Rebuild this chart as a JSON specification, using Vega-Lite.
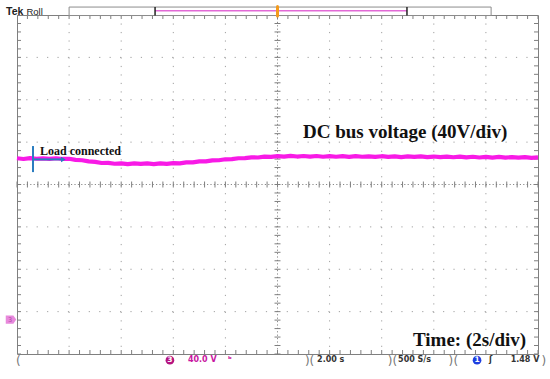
{
  "$schema": "https://vega.github.io/schema/vega-lite/v6.json",
  "autosize": "none",
  "width": 521,
  "height": 339,
  "padding": {"left": 17, "top": 15, "right": 12, "bottom": 25},
  "background": "white",
  "config": {"view": {"stroke": "#7f7f7f", "strokeWidth": 1}},
  "datasets": {
    "tmaj": [{"t": 2}, {"t": 4}, {"t": 6}, {"t": 8}, {"t": 12}, {"t": 14}, {"t": 16}, {"t": 18}],
    "vmaj": [{"v": 8}, {"v": 48}, {"v": 88}, {"v": 168}, {"v": 208}, {"v": 248}],
    "tcen": [{"t": 10}],
    "vcen": [{"v": 128}],
    "tminor": [{"t":0},{"t":0.4},{"t":0.8},{"t":1.2},{"t":1.6},{"t":2},{"t":2.4},{"t":2.8},{"t":3.2},{"t":3.6},{"t":4},{"t":4.4},{"t":4.8},{"t":5.2},{"t":5.6},{"t":6},{"t":6.4},{"t":6.8},{"t":7.2},{"t":7.6},{"t":8},{"t":8.4},{"t":8.8},{"t":9.2},{"t":9.6},{"t":10},{"t":10.4},{"t":10.8},{"t":11.2},{"t":11.6},{"t":12},{"t":12.4},{"t":12.8},{"t":13.2},{"t":13.6},{"t":14},{"t":14.4},{"t":14.8},{"t":15.2},{"t":15.6},{"t":16},{"t":16.4},{"t":16.8},{"t":17.2},{"t":17.6},{"t":18},{"t":18.4},{"t":18.8},{"t":19.2},{"t":19.6},{"t":20}],
    "vminor": [{"v":-32},{"v":-24},{"v":-16},{"v":-8},{"v":0},{"v":8},{"v":16},{"v":24},{"v":32},{"v":40},{"v":48},{"v":56},{"v":64},{"v":72},{"v":80},{"v":88},{"v":96},{"v":104},{"v":112},{"v":120},{"v":128},{"v":136},{"v":144},{"v":152},{"v":160},{"v":168},{"v":176},{"v":184},{"v":192},{"v":200},{"v":208},{"v":216},{"v":224},{"v":232},{"v":240},{"v":248},{"v":256},{"v":264},{"v":272},{"v":280},{"v":288}],
    "trace": [
      {"t":0,"v":152.8},{"t":0.25,"v":152.1},{"t":0.5,"v":152.9},{"t":0.75,"v":152.3},{"t":1,"v":152.7},{"t":1.25,"v":152.2},{"t":1.5,"v":152.8},{"t":1.75,"v":152.1},
      {"t":2,"v":152.3},{"t":2.25,"v":151.2},{"t":2.5,"v":150.9},{"t":2.75,"v":149.8},{"t":3,"v":149.4},{"t":3.25,"v":148.3},{"t":3.5,"v":148.4},{"t":3.75,"v":147.6},
      {"t":4,"v":148.0},{"t":4.25,"v":147.3},{"t":4.5,"v":147.9},{"t":4.75,"v":147.4},{"t":5,"v":147.9},{"t":5.25,"v":147.3},{"t":5.5,"v":148.0},{"t":5.75,"v":147.5},
      {"t":6,"v":148.1},{"t":6.25,"v":148.0},{"t":6.5,"v":148.9},{"t":6.75,"v":148.9},{"t":7,"v":149.8},{"t":7.25,"v":149.9},{"t":7.5,"v":150.8},{"t":7.75,"v":150.9},
      {"t":8,"v":151.8},{"t":8.25,"v":151.9},{"t":8.5,"v":152.8},{"t":8.75,"v":152.9},{"t":9,"v":153.6},{"t":9.25,"v":153.5},{"t":9.5,"v":154.3},{"t":9.75,"v":154.1},
      {"t":10,"v":154.8},{"t":10.25,"v":154.3},{"t":10.5,"v":155.0},{"t":10.75,"v":154.4},{"t":11,"v":154.9},{"t":11.25,"v":154.3},{"t":11.5,"v":154.9},{"t":11.75,"v":154.2},
      {"t":12,"v":154.8},{"t":12.25,"v":154.2},{"t":12.5,"v":154.7},{"t":12.75,"v":154.1},{"t":13,"v":154.8},{"t":13.25,"v":154.2},{"t":13.5,"v":154.6},{"t":13.75,"v":154.0},
      {"t":14,"v":154.7},{"t":14.25,"v":154.1},{"t":14.5,"v":154.6},{"t":14.75,"v":153.9},{"t":15,"v":154.5},{"t":15.25,"v":154.0},{"t":15.5,"v":154.6},{"t":15.75,"v":153.9},
      {"t":16,"v":154.4},{"t":16.25,"v":153.8},{"t":16.5,"v":154.3},{"t":16.75,"v":153.7},{"t":17,"v":154.3},{"t":17.25,"v":153.6},{"t":17.5,"v":154.2},{"t":17.75,"v":153.5},
      {"t":18,"v":154.1},{"t":18.25,"v":153.4},{"t":18.5,"v":154.0},{"t":18.75,"v":153.3},{"t":19,"v":153.9},{"t":19.25,"v":153.3},{"t":19.5,"v":153.8},{"t":19.75,"v":153.2},{"t":20,"v":153.6}
    ],
    "topbar": [{"t": 2.0, "t2": 18.2, "v": 287.5, "v2": 295.5}],
    "topends": [{"t": 5.3}, {"t": 14.97}],
    "topmag": [{"t": 5.3, "t2": 14.97, "v": 292}],
    "marker": [{"t": 10, "v": 287, "v2": 296}],
    "loadv": [{"t": 0.614, "v": 164.3, "v2": 139.7}],
    "loadarrow": [{"t": 0.614, "t2": 1.72, "v": 151.7}],
    "loadhead": [{"t": 1.78, "v": 151.7}],
    "bigtext": [{"t": 10.98, "v": 171.8, "label": "DC bus voltage (40V/div)"}, {"t": 15.2, "v": -24.5, "label": "Time: (2s/div)"}],
    "loadtext": [{"t": 0.883, "v": 159.8, "label": "Load connected"}],
    "tek": [{"t": -0.42, "v": 291, "label": "Tek"}],
    "roll": [{"t": 0.36, "v": 291, "label": "Roll"}],
    "ground": [{"t": -0.23, "v": 0.5, "label": "3"}],
    "brackets": [{"t": 0.05, "v": -38.5, "label": "("}, {"t": 11.15, "v": -38.5, "label": ")"}, {"t": 11.32, "v": -38.5, "label": "("}, {"t": 14.32, "v": -38.5, "label": ")"}, {"t": 14.5, "v": -38.5, "label": "("}, {"t": 16.65, "v": -38.5, "label": ")"}, {"t": 16.85, "v": -38.5, "label": "("}, {"t": 20.22, "v": -38.5, "label": ")"}],
    "statusgray": [{"t": 11.52, "v": -37.8, "label": "2.00 s"}, {"t": 14.63, "v": -37.8, "label": "500 S/s"}, {"t": 18.95, "v": -37.8, "label": "1.48 V"}, {"t": 18.12, "v": -37.8, "label": "ʃ"}],
    "statusmag": [{"t": 6.56, "v": -37.8, "label": "40.0 V"}, {"t": 8.1, "v": -37.8, "label": "ᵇ"}],
    "circmag": [{"t": 5.87, "v": -37.8, "label": "3"}],
    "circblue": [{"t": 17.66, "v": -37.8, "label": "1"}]
  },
  "layer": [
    {"data": {"name": "tmaj"}, "mark": {"type": "rule", "color": "#a0a0a0", "strokeWidth": 1, "strokeDash": [1.2, 7.28]},
     "encoding": {"x": {"field": "t", "type": "quantitative", "scale": {"domain": [0, 20], "nice": false, "zero": false}, "axis": null}}},
    {"data": {"name": "vmaj"}, "mark": {"type": "rule", "color": "#a0a0a0", "strokeWidth": 1, "strokeDash": [1.2, 9.22]},
     "encoding": {"y": {"field": "v", "type": "quantitative", "scale": {"domain": [-32, 288], "nice": false, "zero": false}, "axis": null}}},
    {"data": {"name": "tcen"}, "mark": {"type": "rule", "color": "#8a8a8a", "strokeWidth": 1, "strokeDash": [1.2, 2.2]},
     "encoding": {"x": {"field": "t", "type": "quantitative", "scale": {"domain": [0, 20], "nice": false, "zero": false}, "axis": null}}},
    {"data": {"name": "vcen"}, "mark": {"type": "rule", "color": "#8a8a8a", "strokeWidth": 1, "strokeDash": [1.2, 2.2]},
     "encoding": {"y": {"field": "v", "type": "quantitative", "scale": {"domain": [-32, 288], "nice": false, "zero": false}, "axis": null}}},
    {"data": {"name": "tminor"}, "mark": {"type": "tick", "orient": "vertical", "color": "#7f7f7f", "size": 6, "thickness": 1, "opacity": 1},
     "encoding": {"x": {"field": "t", "type": "quantitative", "scale": {"domain": [0, 20], "nice": false, "zero": false}, "axis": null},
                  "y": {"datum": 128, "type": "quantitative", "scale": {"domain": [-32, 288], "nice": false, "zero": false}, "axis": null}}},
    {"data": {"name": "vminor"}, "mark": {"type": "tick", "orient": "horizontal", "color": "#7f7f7f", "size": 6, "thickness": 1, "opacity": 1},
     "encoding": {"y": {"field": "v", "type": "quantitative", "scale": {"domain": [-32, 288], "nice": false, "zero": false}, "axis": null},
                  "x": {"datum": 10, "type": "quantitative", "scale": {"domain": [0, 20], "nice": false, "zero": false}, "axis": null}}},
    {"data": {"name": "tminor"}, "mark": {"type": "tick", "orient": "vertical", "color": "#7f7f7f", "size": 8, "thickness": 1, "opacity": 1, "clip": true},
     "encoding": {"x": {"field": "t", "type": "quantitative", "scale": {"domain": [0, 20], "nice": false, "zero": false}, "axis": null},
                  "y": {"datum": 288, "type": "quantitative", "scale": {"domain": [-32, 288], "nice": false, "zero": false}, "axis": null}}},
    {"data": {"name": "tminor"}, "mark": {"type": "tick", "orient": "vertical", "color": "#7f7f7f", "size": 8, "thickness": 1, "opacity": 1, "clip": true},
     "encoding": {"x": {"field": "t", "type": "quantitative", "scale": {"domain": [0, 20], "nice": false, "zero": false}, "axis": null},
                  "y": {"datum": -32, "type": "quantitative", "scale": {"domain": [-32, 288], "nice": false, "zero": false}, "axis": null}}},
    {"data": {"name": "vminor"}, "mark": {"type": "tick", "orient": "horizontal", "color": "#7f7f7f", "size": 8, "thickness": 1, "opacity": 1, "clip": true},
     "encoding": {"y": {"field": "v", "type": "quantitative", "scale": {"domain": [-32, 288], "nice": false, "zero": false}, "axis": null},
                  "x": {"datum": 0, "type": "quantitative", "scale": {"domain": [0, 20], "nice": false, "zero": false}, "axis": null}}},
    {"data": {"name": "vminor"}, "mark": {"type": "tick", "orient": "horizontal", "color": "#7f7f7f", "size": 8, "thickness": 1, "opacity": 1, "clip": true},
     "encoding": {"y": {"field": "v", "type": "quantitative", "scale": {"domain": [-32, 288], "nice": false, "zero": false}, "axis": null},
                  "x": {"datum": 20, "type": "quantitative", "scale": {"domain": [0, 20], "nice": false, "zero": false}, "axis": null}}},
    {"data": {"name": "topbar"}, "mark": {"type": "rect", "fill": "white", "stroke": "#8c8c8c", "strokeWidth": 1},
     "encoding": {"x": {"field": "t", "type": "quantitative", "scale": {"domain": [0, 20], "nice": false, "zero": false}, "axis": null}, "x2": {"field": "t2"},
                  "y": {"field": "v", "type": "quantitative", "scale": {"domain": [-32, 288], "nice": false, "zero": false}, "axis": null}, "y2": {"field": "v2"}}},
    {"data": {"name": "topmag"}, "mark": {"type": "rule", "color": "#e26ad6", "strokeWidth": 1.5},
     "encoding": {"x": {"field": "t", "type": "quantitative", "scale": {"domain": [0, 20], "nice": false, "zero": false}, "axis": null}, "x2": {"field": "t2"},
                  "y": {"field": "v", "type": "quantitative", "scale": {"domain": [-32, 288], "nice": false, "zero": false}, "axis": null}}},
    {"data": {"name": "topends"}, "mark": {"type": "rule", "color": "#222222", "strokeWidth": 1.5},
     "encoding": {"x": {"field": "t", "type": "quantitative", "scale": {"domain": [0, 20], "nice": false, "zero": false}, "axis": null},
                  "y": {"datum": 287.5, "type": "quantitative", "scale": {"domain": [-32, 288], "nice": false, "zero": false}, "axis": null}, "y2": {"datum": 295.5}}},
    {"data": {"name": "marker"}, "mark": {"type": "rule", "color": "#f39a1c", "strokeWidth": 3, "strokeCap": "round"},
     "encoding": {"x": {"field": "t", "type": "quantitative", "scale": {"domain": [0, 20], "nice": false, "zero": false}, "axis": null},
                  "y": {"field": "v", "type": "quantitative", "scale": {"domain": [-32, 288], "nice": false, "zero": false}, "axis": null}, "y2": {"field": "v2"}}},
    {"data": {"name": "trace"}, "mark": {"type": "line", "color": "#f81ae6", "strokeWidth": 4.2, "strokeJoin": "round"},
     "encoding": {"x": {"field": "t", "type": "quantitative", "scale": {"domain": [0, 20], "nice": false, "zero": false}, "axis": null},
                  "y": {"field": "v", "type": "quantitative", "scale": {"domain": [-32, 288], "nice": false, "zero": false}, "axis": null}}},
    {"data": {"name": "loadv"}, "mark": {"type": "rule", "color": "#2b7dc0", "strokeWidth": 2},
     "encoding": {"x": {"field": "t", "type": "quantitative", "scale": {"domain": [0, 20], "nice": false, "zero": false}, "axis": null},
                  "y": {"field": "v", "type": "quantitative", "scale": {"domain": [-32, 288], "nice": false, "zero": false}, "axis": null}, "y2": {"field": "v2"}}},
    {"data": {"name": "loadarrow"}, "mark": {"type": "rule", "color": "#2b7dc0", "strokeWidth": 2},
     "encoding": {"x": {"field": "t", "type": "quantitative", "scale": {"domain": [0, 20], "nice": false, "zero": false}, "axis": null}, "x2": {"field": "t2"},
                  "y": {"field": "v", "type": "quantitative", "scale": {"domain": [-32, 288], "nice": false, "zero": false}, "axis": null}}},
    {"data": {"name": "loadhead"}, "mark": {"type": "point", "shape": "triangle-right", "filled": true, "color": "#2b7dc0", "size": 30, "opacity": 1},
     "encoding": {"x": {"field": "t", "type": "quantitative", "scale": {"domain": [0, 20], "nice": false, "zero": false}, "axis": null},
                  "y": {"field": "v", "type": "quantitative", "scale": {"domain": [-32, 288], "nice": false, "zero": false}, "axis": null}}},
    {"data": {"name": "bigtext"}, "mark": {"type": "text", "font": "Liberation Serif", "fontSize": 19, "fontWeight": "bold", "color": "#111111", "align": "left", "baseline": "alphabetic"},
     "encoding": {"x": {"field": "t", "type": "quantitative", "scale": {"domain": [0, 20], "nice": false, "zero": false}, "axis": null},
                  "y": {"field": "v", "type": "quantitative", "scale": {"domain": [-32, 288], "nice": false, "zero": false}, "axis": null}, "text": {"field": "label"}}},
    {"data": {"name": "loadtext"}, "mark": {"type": "text", "font": "Liberation Serif", "fontSize": 12, "fontWeight": "bold", "color": "#111111", "align": "left", "baseline": "middle"},
     "encoding": {"x": {"field": "t", "type": "quantitative", "scale": {"domain": [0, 20], "nice": false, "zero": false}, "axis": null},
                  "y": {"field": "v", "type": "quantitative", "scale": {"domain": [-32, 288], "nice": false, "zero": false}, "axis": null}, "text": {"field": "label"}}},
    {"data": {"name": "tek"}, "mark": {"type": "text", "font": "Liberation Sans", "fontSize": 10.5, "fontWeight": "bold", "color": "#222222", "align": "left", "baseline": "middle"},
     "encoding": {"x": {"field": "t", "type": "quantitative", "scale": {"domain": [0, 20], "nice": false, "zero": false}, "axis": null},
                  "y": {"field": "v", "type": "quantitative", "scale": {"domain": [-32, 288], "nice": false, "zero": false}, "axis": null}, "text": {"field": "label"}}},
    {"data": {"name": "roll"}, "mark": {"type": "text", "font": "Liberation Sans", "fontSize": 9.5, "color": "#222222", "align": "left", "baseline": "middle"},
     "encoding": {"x": {"field": "t", "type": "quantitative", "scale": {"domain": [0, 20], "nice": false, "zero": false}, "axis": null},
                  "y": {"field": "v", "type": "quantitative", "scale": {"domain": [-32, 288], "nice": false, "zero": false}, "axis": null}, "text": {"field": "label"}}},
    {"data": {"name": "ground"}, "mark": {"type": "point", "shape": "M-1,-0.8L0.45,-0.8L1,0L0.45,0.8L-1,0.8Z", "filled": true, "color": "#e889dc", "size": 110, "opacity": 1},
     "encoding": {"x": {"field": "t", "type": "quantitative", "scale": {"domain": [0, 20], "nice": false, "zero": false}, "axis": null},
                  "y": {"field": "v", "type": "quantitative", "scale": {"domain": [-32, 288], "nice": false, "zero": false}, "axis": null}}},
    {"data": {"name": "ground"}, "mark": {"type": "text", "font": "DejaVu Sans", "fontSize": 6.5, "color": "#b04aa8", "align": "center", "baseline": "middle", "dx": -1},
     "encoding": {"x": {"field": "t", "type": "quantitative", "scale": {"domain": [0, 20], "nice": false, "zero": false}, "axis": null},
                  "y": {"field": "v", "type": "quantitative", "scale": {"domain": [-32, 288], "nice": false, "zero": false}, "axis": null}, "text": {"field": "label"}}},
    {"data": {"name": "brackets"}, "mark": {"type": "text", "font": "DejaVu Sans", "fontSize": 12, "color": "#777777", "align": "center", "baseline": "middle"},
     "encoding": {"x": {"field": "t", "type": "quantitative", "scale": {"domain": [0, 20], "nice": false, "zero": false}, "axis": null},
                  "y": {"field": "v", "type": "quantitative", "scale": {"domain": [-32, 288], "nice": false, "zero": false}, "axis": null}, "text": {"field": "label"}}},
    {"data": {"name": "statusgray"}, "mark": {"type": "text", "font": "DejaVu Sans", "fontSize": 8, "fontWeight": "bold", "color": "#333333", "align": "left", "baseline": "middle"},
     "encoding": {"x": {"field": "t", "type": "quantitative", "scale": {"domain": [0, 20], "nice": false, "zero": false}, "axis": null},
                  "y": {"field": "v", "type": "quantitative", "scale": {"domain": [-32, 288], "nice": false, "zero": false}, "axis": null}, "text": {"field": "label"}}},
    {"data": {"name": "statusmag"}, "mark": {"type": "text", "font": "DejaVu Sans", "fontSize": 8, "fontWeight": "bold", "color": "#c8169f", "align": "left", "baseline": "middle"},
     "encoding": {"x": {"field": "t", "type": "quantitative", "scale": {"domain": [0, 20], "nice": false, "zero": false}, "axis": null},
                  "y": {"field": "v", "type": "quantitative", "scale": {"domain": [-32, 288], "nice": false, "zero": false}, "axis": null}, "text": {"field": "label"}}},
    {"data": {"name": "circmag"}, "mark": {"type": "point", "shape": "circle", "filled": true, "color": "#b5137f", "size": 75, "opacity": 1},
     "encoding": {"x": {"field": "t", "type": "quantitative", "scale": {"domain": [0, 20], "nice": false, "zero": false}, "axis": null},
                  "y": {"field": "v", "type": "quantitative", "scale": {"domain": [-32, 288], "nice": false, "zero": false}, "axis": null}}},
    {"data": {"name": "circblue"}, "mark": {"type": "point", "shape": "circle", "filled": true, "color": "#1f3fe0", "size": 75, "opacity": 1},
     "encoding": {"x": {"field": "t", "type": "quantitative", "scale": {"domain": [0, 20], "nice": false, "zero": false}, "axis": null},
                  "y": {"field": "v", "type": "quantitative", "scale": {"domain": [-32, 288], "nice": false, "zero": false}, "axis": null}}},
    {"data": {"name": "circmag"}, "mark": {"type": "text", "font": "DejaVu Sans", "fontSize": 7.5, "fontWeight": "bold", "color": "white", "align": "center", "baseline": "middle"},
     "encoding": {"x": {"field": "t", "type": "quantitative", "scale": {"domain": [0, 20], "nice": false, "zero": false}, "axis": null},
                  "y": {"field": "v", "type": "quantitative", "scale": {"domain": [-32, 288], "nice": false, "zero": false}, "axis": null}, "text": {"field": "label"}}},
    {"data": {"name": "circblue"}, "mark": {"type": "text", "font": "DejaVu Sans", "fontSize": 7.5, "fontWeight": "bold", "color": "white", "align": "center", "baseline": "middle"},
     "encoding": {"x": {"field": "t", "type": "quantitative", "scale": {"domain": [0, 20], "nice": false, "zero": false}, "axis": null},
                  "y": {"field": "v", "type": "quantitative", "scale": {"domain": [-32, 288], "nice": false, "zero": false}, "axis": null}, "text": {"field": "label"}}}
  ]
}
